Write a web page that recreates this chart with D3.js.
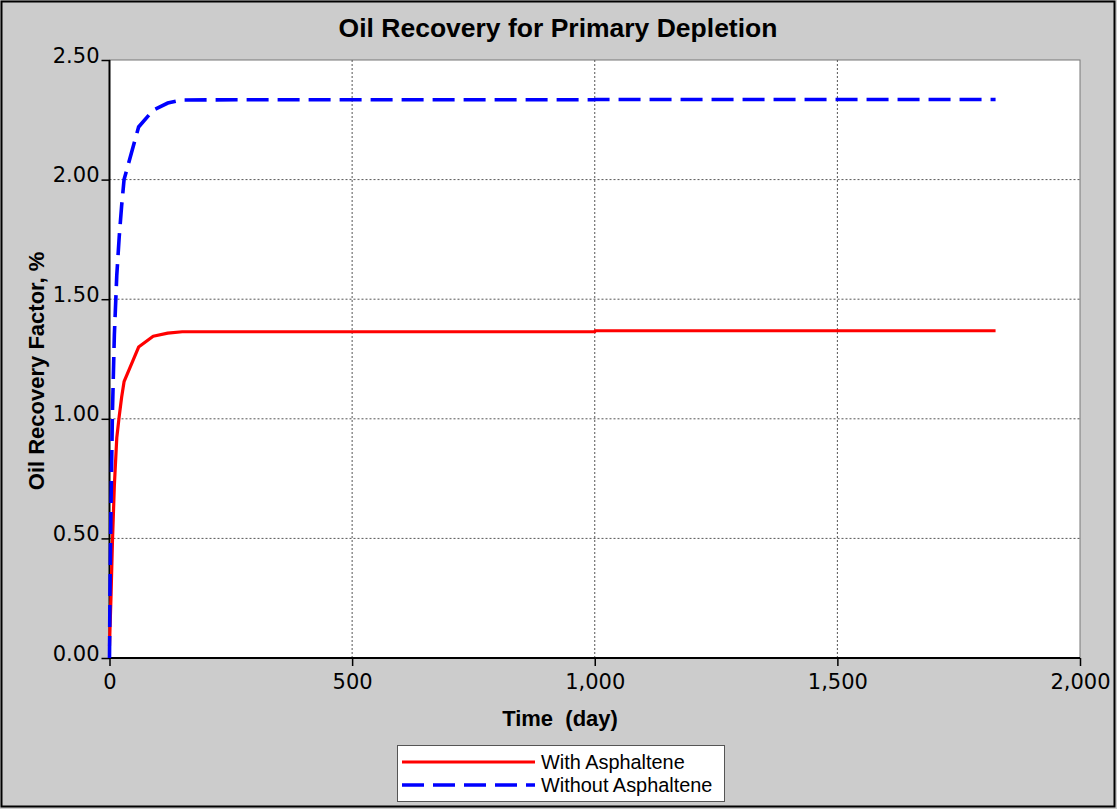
<!DOCTYPE html>
<html>
<head>
<meta charset="utf-8">
<script src="https://cdn.jsdelivr.net/npm/d3@7"></script>
<style>
  body { margin: 0; background: #cccccc; }
  svg { display: block; }
</style>
</head>
<body>
<div id="chart"></div>
<script>
// data
const timeDays = [0, 1, 3, 6, 10, 15, 20, 25, 30, 60, 90, 120, 150, 365, 730, 1000, 1001, 1461, 1826];
const withAsphaltene = [0.05, 0.12, 0.25, 0.48, 0.72, 0.92, 1.01, 1.09, 1.155, 1.30, 1.345, 1.358, 1.364, 1.364, 1.364, 1.364, 1.368, 1.368, 1.368];
const withoutAsphaltene = [0.0, 0.28, 0.62, 1.02, 1.35, 1.6, 1.76, 1.89, 2.0, 2.22, 2.29, 2.32, 2.333, 2.334, 2.334, 2.334, 2.335, 2.335, 2.335];
const seriesNames = ["With Asphaltene", "Without Asphaltene"];
const xTicks = [0, 500, 1000, 1500, 2000];
const yTicks = [0, 0.5, 1.0, 1.5, 2.0, 2.5];

const WIDTH = 1117, HEIGHT = 809;
const margin = {top: 60, right: 37, bottom: 151, left: 109.5};
const WIDTHVIS = WIDTH - margin.left - margin.right;
const HEIGHTVIS = HEIGHT - margin.top - margin.bottom;

const svg = d3.select("#chart").append("svg")
    .attr("width", WIDTH)
    .attr("height", HEIGHT);

// outer frame
svg.append("rect")
    .attr("x", 1.5).attr("y", 1.5)
    .attr("width", WIDTH - 4).attr("height", HEIGHT - 4)
    .attr("fill", "#cccccc")
    .attr("stroke", "#000").attr("stroke-width", 2);

const xScale = d3.scaleLinear().domain([0, 2000]).range([0, WIDTHVIS]);
const yScale = d3.scaleLinear().domain([0, 2.5]).range([HEIGHTVIS, 0]);

const g = svg.append("g").attr("transform", `translate(${margin.left},${margin.top})`);

// plot background
g.append("rect")
    .attr("width", WIDTHVIS).attr("height", HEIGHTVIS)
    .attr("fill", "#fff")
    .attr("stroke", "#777").attr("stroke-width", 1);

// grid
g.append("g").selectAll("line")
    .data(yTicks.filter(d => d > 0 && d < 2.5))
    .join("line")
    .attr("x1", 0).attr("x2", WIDTHVIS)
    .attr("y1", d => yScale(d)).attr("y2", d => yScale(d))
    .attr("stroke", "#555").attr("stroke-dasharray", "2,2");

g.append("g").selectAll("line")
    .data(xTicks.filter(d => d > 0 && d < 2000))
    .join("line")
    .attr("y1", 0).attr("y2", HEIGHTVIS)
    .attr("x1", d => xScale(d)).attr("x2", d => xScale(d))
    .attr("stroke", "#555").attr("stroke-dasharray", "2,2");

// axes
const fmtY = d3.format(".2f");
const fmtX = d3.format(",");

const yAxis = g.append("g")
    .call(d3.axisLeft(yScale).tickValues(yTicks).tickFormat(fmtY).tickSize(8).tickPadding(2));
const xAxis = g.append("g")
    .attr("transform", `translate(0,${HEIGHTVIS})`)
    .call(d3.axisBottom(xScale).tickValues(xTicks).tickFormat(fmtX).tickSize(8).tickPadding(5));

[yAxis, xAxis].forEach(a => {
    a.select(".domain").remove();
    a.selectAll(".tick line").attr("stroke", "#000").attr("stroke-width", 1.5);
    a.selectAll("text")
        .attr("fill", "#000")
        .style("font-family", "'DejaVu Sans', sans-serif")
        .style("font-size", "21px");
});
xAxis.selectAll(".tick text").attr("dy", "0.85em");
yAxis.selectAll(".tick text").attr("dy", "0.1em");

g.append("line")
    .attr("x1", 0).attr("x2", 0).attr("y1", 0).attr("y2", HEIGHTVIS + 1)
    .attr("stroke", "#000").attr("stroke-width", 2);
g.append("line")
    .attr("x1", -1).attr("x2", WIDTHVIS).attr("y1", HEIGHTVIS).attr("y2", HEIGHTVIS)
    .attr("stroke", "#000").attr("stroke-width", 2);

// lines
const lineWith = d3.line()
    .x((d, i) => xScale(timeDays[i]))
    .y(d => yScale(d));

g.append("path")
    .datum(withAsphaltene)
    .attr("fill", "none")
    .attr("stroke", "#ff0000").attr("stroke-width", 3.2)
    .attr("stroke-linejoin", "round")
    .attr("d", lineWith);

g.append("path")
    .datum(withoutAsphaltene)
    .attr("fill", "none")
    .attr("stroke", "#0000ff").attr("stroke-width", 3.6)
    .attr("stroke-dasharray", "22,9")
    .attr("d", lineWith);

// titles
svg.append("text")
    .attr("x", 558).attr("y", 37)
    .attr("text-anchor", "middle")
    .style("font-family", "'Liberation Sans', Arial, sans-serif")
    .style("font-weight", "bold").style("font-size", "26.5px")
    .text("Oil Recovery for Primary Depletion");

svg.append("text")
    .attr("x", 560).attr("y", 726)
    .attr("text-anchor", "middle")
    .style("font-family", "'Liberation Sans', Arial, sans-serif")
    .style("font-weight", "bold").style("font-size", "22px")
    .style("white-space", "pre")
    .text("Time  (day)");

svg.append("text")
    .attr("transform", "rotate(-90)")
    .attr("x", -371).attr("y", 44)
    .attr("text-anchor", "middle")
    .style("font-family", "'Liberation Sans', Arial, sans-serif")
    .style("font-weight", "bold").style("font-size", "22px")
    .text("Oil Recovery Factor, %");

// legend
const legend = svg.append("g").attr("transform", "translate(397,745)");
legend.append("rect")
    .attr("x", 0.5).attr("y", 0.5).attr("width", 327).attr("height", 56)
    .attr("fill", "#fff").attr("stroke", "#555");

const legendStyle = [
    {color: "#ff0000", width: 3.2, dash: null},
    {color: "#0000ff", width: 3.6, dash: "22,9"}
];
seriesNames.forEach((name, i) => {
    const y = 17 + i * 23;
    legend.append("line")
        .attr("x1", 5).attr("x2", 138).attr("y1", y).attr("y2", y)
        .attr("stroke", legendStyle[i].color)
        .attr("stroke-width", legendStyle[i].width)
        .attr("stroke-dasharray", legendStyle[i].dash);
    legend.append("text")
        .attr("x", 144).attr("y", y + 7)
        .style("font-family", "'Liberation Sans', Arial, sans-serif")
        .style("font-size", "19.9px")
        .text(name);
});
</script>
</body>
</html>
